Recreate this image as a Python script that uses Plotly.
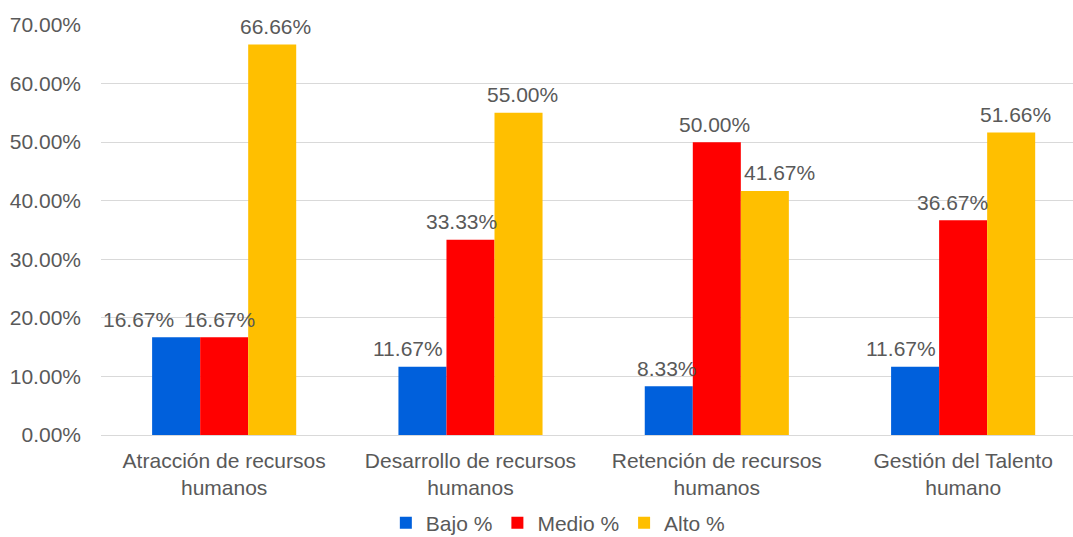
import plotly.graph_objects as go

# Categories and series values (percent)
categories = [
    "Atracción de recursos<br>humanos",
    "Desarrollo de recursos<br>humanos",
    "Retención de recursos<br>humanos",
    "Gestión del Talento<br>humano",
]
bajo = [16.67, 11.67, 8.33, 11.67]
medio = [16.67, 33.33, 50.00, 36.67]
alto = [66.66, 55.00, 41.67, 51.66]
series_names = ["Bajo %", "Medio %", "Alto %"]
y_ticks = [0, 10, 20, 30, 40, 50, 60, 70]

# Styling
colors = ["#0060DC", "#FF0000", "#FFBF00"]
text_color = "#595959"
font_family = "Liberation Sans, Arial, sans-serif"
font_size = 21
bar_px = 48  # width of one bar in pixels
# horizontal nudges of the value labels (pixels), per series and category
label_dx = [
    [-38, -14, -2, -14],
    [-5, -9, -2, -11],
    [3, 4, 15, 4],
]

series_values = [bajo, medio, alto]

fig = go.Figure()
for name, vals, col in zip(series_names, series_values, colors):
    fig.add_trace(go.Bar(
        x=categories, y=vals, name=name,
        marker=dict(color=col, line=dict(width=0)),
        hoverinfo="skip",
    ))

annotations = []
for si, vals in enumerate(series_values):
    for ci, v in enumerate(vals):
        annotations.append(dict(
            x=categories[ci], y=v, xref="x", yref="y",
            text=f"{v:.2f}%", showarrow=False,
            xshift=(si - 1) * bar_px + label_dx[si][ci], yshift=18,
            yanchor="middle", xanchor="center",
            font=dict(family=font_family, size=font_size, color=text_color),
        ))

fig.update_layout(
    width=1073, height=537,
    margin=dict(l=101, r=0, t=25, b=102, autoexpand=False),
    paper_bgcolor="white", plot_bgcolor="white",
    barmode="group", bargap=0.415, bargroupgap=0,
    font=dict(family=font_family, size=font_size, color=text_color),
    annotations=annotations,
    legend=dict(
        orientation="h", xref="paper", x=0.47, xanchor="center",
        yref="container", y=0.026, yanchor="middle",
        font=dict(family=font_family, size=font_size, color=text_color),
        itemwidth=30, traceorder="normal",
    ),
    showlegend=True,
)
fig.update_xaxes(
    type="category", range=[-0.5, 3.446],
    showgrid=False, showline=False, zeroline=False,
    tickfont=dict(family=font_family, size=font_size, color=text_color),
    ticks="", ticklabelstandoff=11,
)
fig.update_yaxes(
    range=[0, 70], tickvals=y_ticks,
    ticktext=[f"{t:.2f}%" for t in y_ticks],
    showgrid=True, gridcolor="#D9D9D9", gridwidth=1,
    zeroline=True, zerolinecolor="#D9D9D9", zerolinewidth=1,
    showline=False, ticks="", ticklabelstandoff=19,
    tickfont=dict(family=font_family, size=font_size, color=text_color),
)

fig.write_html("out.html")
